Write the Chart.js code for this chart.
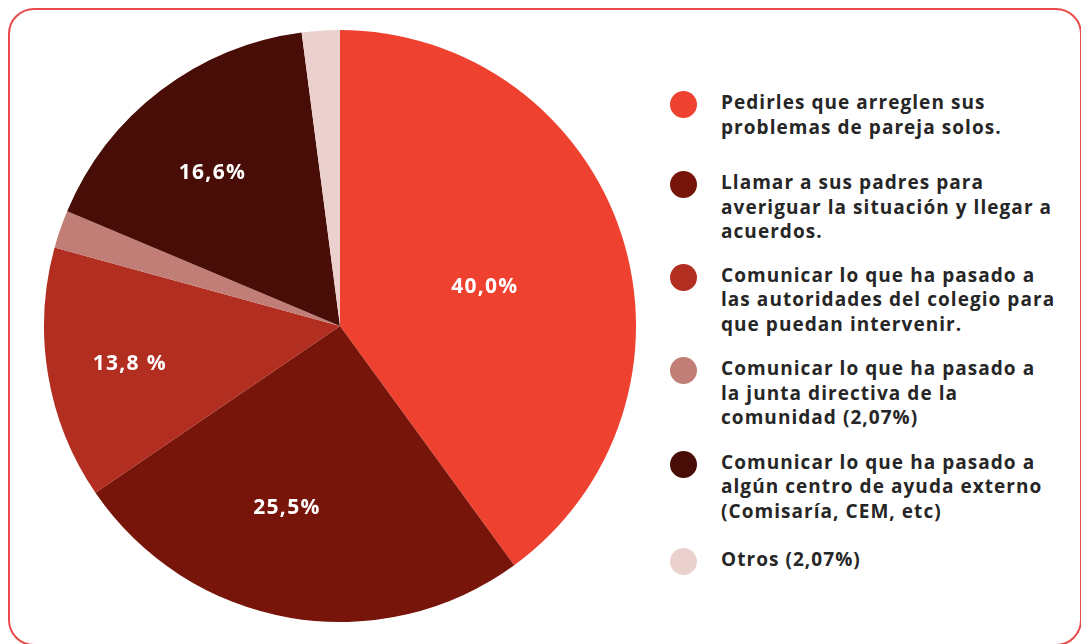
<!DOCTYPE html>
<html>
<head>
<meta charset="utf-8">
<script src="https://cdn.jsdelivr.net/npm/chart.js@4/dist/chart.umd.min.js"></script>
<style>
    html, body { margin: 0; padding: 0; background: #fff; }
    body { width: 1081px; height: 644px; position: relative; overflow: hidden; font-family: "Open Sans", sans-serif; }
    #frame {
        position: absolute; left: 8px; top: 8px; width: 1070px; height: 634px;
        border: 2px solid #E84B4B; border-radius: 26px;
    }
    #pieBox { position: absolute; left: 40px; top: 26px; width: 600px; height: 600px; }
    #legend { position: absolute; left: 670px; top: 90px; width: 410px; }
    .item { display: flex; align-items: flex-start; margin-bottom: 20px; }
    .item:nth-child(1) { margin-bottom: 31px; }
    .item:nth-child(2) { margin-bottom: 19px; }
    .item:nth-child(5) { margin-bottom: 24px; }
    .dot { width: 27px; height: 27px; border-radius: 50%; flex: none; margin-top: 1px; }
    .txt { margin-left: 24px; font-weight: 700; font-size: 19px; line-height: 24.5px; letter-spacing: 1.05px; color: #262626; }
</style>
</head>
<body>
<div id="frame"></div>
<div id="pieBox"><canvas id="pieChart" width="600" height="600"></canvas></div>
<div id="legend"></div>
<script>
var labels = [
    ["Pedirles que arreglen sus", "problemas de pareja solos."],
    ["Llamar a sus padres para", "averiguar la situación y llegar a", "acuerdos."],
    ["Comunicar lo que ha pasado a", "las autoridades del colegio para", "que puedan intervenir."],
    ["Comunicar lo que ha pasado a", "la junta directiva de la", "comunidad (2,07%)"],
    ["Comunicar lo que ha pasado a", "algún centro de ayuda externo", "(Comisaría, CEM, etc)"],
    ["Otros (2,07%)"]
];
var values = [40.0, 25.5, 13.8, 2.07, 16.6, 2.07];
var sliceLabels = ["40,0%", "25,5%", "13,8 %", "", "16,6%", ""];
var colors = ["#EE412F", "#78150B", "#B22E20", "#C07E76", "#490D07", "#EAD1CE"];

// legend on the right, built from the same arrays
var legendHTML = "";
for (var i = 0; i < labels.length; i++)
{
    legendHTML += '<div class="item"><div class="dot" style="background:' + colors[i] + '"></div>' +
        '<div class="txt">' + labels[i].join("<br>") + '</div></div>';
}
document.getElementById("legend").innerHTML = legendHTML;

// white percentage text inside the big slices
var sliceText = {
    id: "sliceText",
    afterDatasetsDraw: function (chart, args, opts) {
        var ctx = chart.ctx;
        var arcs = chart.getDatasetMeta(0).data;
        ctx.save();
        ctx.fillStyle = "#fff";
        ctx.font = "700 21px 'Open Sans', sans-serif";
        ctx.letterSpacing = "1.3px";
        ctx.textAlign = "center";
        ctx.textBaseline = "middle";
        arcs.forEach(function (arc, i) {
            if (!sliceLabels[i]) return;
            var a = (arc.startAngle + arc.endAngle) / 2 + opts.turn[i] * Math.PI / 180;
            var r = arc.outerRadius * opts.radius[i];
            ctx.fillText(sliceLabels[i], arc.x + Math.cos(a) * r, arc.y + Math.sin(a) * r + 3);
        });
        ctx.restore();
    }
};

var pieChart = new Chart(document.getElementById("pieChart"), {
    type: "pie",
    data: {
        labels: labels.map(function (l) { return l.join(" "); }),
        datasets: [{
            data: values,
            backgroundColor: colors,
            borderWidth: 0
        }]
    },
    options: {
        responsive: false,
        animation: false,
        layout: { padding: 4 },
        plugins: {
            legend: { display: false },
            tooltip: { enabled: false },
            sliceText: {
                radius: [0.51, 0.63, 0.72, 0, 0.68, 0],
                turn: [1.7, 6.7, 0, 0, -2, 0]
            }
        }
    },
    plugins: [sliceText]
});
</script>
</body>
</html>
